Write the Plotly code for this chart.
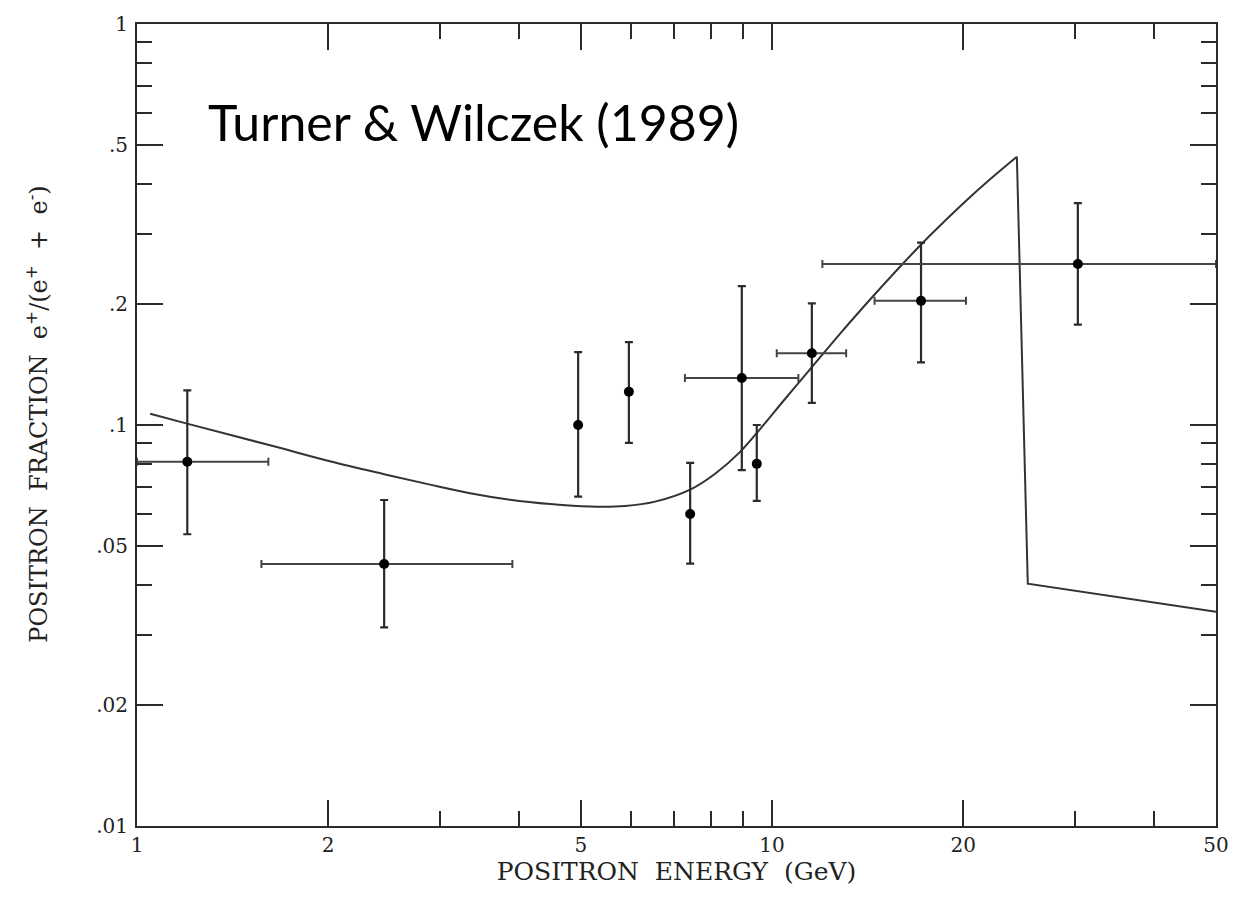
import plotly.graph_objects as go

# Measured positron fraction e+/(e+ + e-) vs energy
energy = [1.2, 2.45, 4.95, 5.95, 7.43, 8.96, 9.46, 11.55, 17.16, 30.3]
fraction = [0.081, 0.045, 0.100, 0.121, 0.060, 0.131, 0.080, 0.151, 0.204, 0.252]
frac_hi = [0.122, 0.065, 0.152, 0.161, 0.0805, 0.222, 0.100, 0.201, 0.285, 0.3575]
frac_lo = [0.0534, 0.0313, 0.0663, 0.0902, 0.0451, 0.0772, 0.0647, 0.1136, 0.1433, 0.178]
energy_lo = [1.0, 1.57, 4.95, 5.95, 7.43, 7.29, 9.46, 10.17, 14.5, 12.0]
energy_hi = [1.61, 3.90, 4.95, 5.95, 7.43, 11.0, 9.46, 13.08, 20.2, 50.0]

# Model curve: smooth rise to a cutoff near 24 GeV, then a sharp drop
model_x = [1.049, 1.199, 1.62, 2.013, 2.449, 2.893, 3.345, 3.867, 4.472, 5.17,
           5.869, 6.543, 7.429, 8.134, 8.906, 9.575, 10.48, 11.48, 12.79, 14.43,
           16.09, 17.74, 19.99, 22.04, 24.29, 25.27, 50.0]
model_y = [0.1067, 0.1008, 0.089, 0.0812, 0.0754, 0.071, 0.0676, 0.0651, 0.0635,
           0.0626, 0.0628, 0.0644, 0.069, 0.0756, 0.0857, 0.0977, 0.1161, 0.1378,
           0.1688, 0.2097, 0.2532, 0.2973, 0.3569, 0.4101, 0.4668, 0.0402, 0.0342]
peak = model_y.index(max(model_y))

x_major = [1, 2, 5, 10, 20, 50]
x_major_text = ["1", "2", "5", "10", "20", "50"]
x_minor = [3, 4, 6, 7, 8, 9, 30, 40]
y_major = [0.01, 0.02, 0.05, 0.1, 0.2, 0.5, 1]
y_major_text = [".01", ".02", ".05", ".1", ".2", ".5", "1"]
y_minor = [0.03, 0.04, 0.06, 0.07, 0.08, 0.09, 0.3, 0.4, 0.6, 0.7, 0.8, 0.9]

ink = "#2b2b2b"
serif = "DejaVu Serif, Liberation Serif, serif"
sp = "\u00a0\u00a0"

fig = go.Figure()

fig.add_trace(go.Scatter(
    x=model_x[:peak + 1], y=model_y[:peak + 1], mode="lines",
    line=dict(color="#333333", width=2, shape="spline", smoothing=1.0),
    hoverinfo="skip", showlegend=False))
fig.add_trace(go.Scatter(
    x=model_x[peak:], y=model_y[peak:], mode="lines",
    line=dict(color="#333333", width=2), hoverinfo="skip", showlegend=False))

fig.add_trace(go.Scatter(
    x=energy, y=fraction, mode="markers",
    marker=dict(color="black", size=10),
    error_y=dict(type="data", symmetric=False,
                 array=[h - v for h, v in zip(frac_hi, fraction)],
                 arrayminus=[v - l for l, v in zip(frac_lo, fraction)],
                 color=ink, thickness=2.2, width=4),
    error_x=dict(type="data", symmetric=False,
                 array=[h - v for h, v in zip(energy_hi, energy)],
                 arrayminus=[v - l for l, v in zip(energy_lo, energy)],
                 color="#444", thickness=2, width=4),
    showlegend=False))

axis_common = dict(
    type="log", showgrid=False, zeroline=False,
    showline=True, linecolor=ink, linewidth=2, mirror="ticks",
    ticks="inside", ticklen=26, tickwidth=2, tickcolor=ink,
    tickfont=dict(family=serif, size=20, color="#222"),
)

fig.update_xaxes(
    **axis_common,
    range=[0, 1.69897],
    tickmode="array", tickvals=x_major, ticktext=x_major_text,
    minor=dict(tickvals=x_minor, ticks="inside", ticklen=15, tickwidth=2, tickcolor=ink),
    title=dict(text=f"POSITRON{sp}ENERGY{sp}(GeV)",
               font=dict(family=serif, size=25, color="#222"), standoff=0),
)
fig.update_yaxes(
    **axis_common,
    range=[-2, 0],
    tickmode="array", tickvals=y_major, ticktext=y_major_text,
    minor=dict(tickvals=y_minor, ticks="inside", ticklen=15, tickwidth=2, tickcolor=ink),
    ticklabelstandoff=3,
)

# Vertical axis title placed by hand so it sits at the far left edge
fig.add_annotation(
    text=f"POSITRON{sp}FRACTION{sp}e<sup>+</sup>/(e<sup>+</sup>{sp}+{sp}e<sup>-</sup>)",
    xref="paper", yref="paper", x=-0.0927, y=0.514, textangle=-90,
    xanchor="center", yanchor="middle", showarrow=False,
    font=dict(family=serif, size=24, color="#222"),
)

fig.add_annotation(
    text="Turner & Wilczek (1989)", xref="paper", yref="paper",
    x=0.064, y=0.878, xanchor="left", yanchor="middle", showarrow=False,
    font=dict(family="Lato, Open Sans, sans-serif", size=50, color="black"),
)

fig.update_layout(
    width=1250, height=898,
    margin=dict(l=137, r=34, t=20, b=72),
    paper_bgcolor="white", plot_bgcolor="white",
)

fig.write_html("out.html")
